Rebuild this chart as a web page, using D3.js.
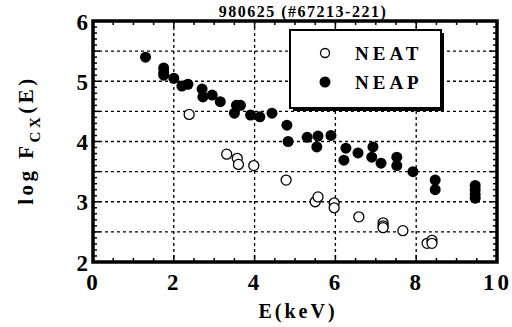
<!DOCTYPE html>
<html>
<head>
<meta charset="utf-8">
<script src="https://cdn.jsdelivr.net/npm/d3@7"></script>
<style>
  body { margin: 0; background: #fff; }
  text { font-family: "Liberation Serif", "Times New Roman", serif; font-weight: bold; fill: #000; }
</style>
</head>
<body>
<div id="chart"></div>
<script>
// data: energy (keV) and log F_CX(E)
var neatE = [2.38, 3.31, 3.57, 3.6, 3.98, 4.78, 5.5, 5.57, 5.97, 5.97, 6.58, 7.18, 7.18, 7.18, 7.67, 8.27, 8.39, 8.39];
var neatF = [4.45, 3.79, 3.72, 3.62, 3.6, 3.36, 3.0, 3.08, 2.98, 2.9, 2.75, 2.65, 2.6, 2.57, 2.52, 2.31, 2.36, 2.31];

var neapE = [1.3, 1.75, 1.75, 1.75, 2.0, 2.2, 2.35, 2.7, 2.72, 2.95, 3.15, 3.5, 3.55, 3.65, 3.9, 4.13, 4.43,
  4.8, 4.83, 5.3, 5.57, 5.54, 5.89, 6.26, 6.21, 6.56, 6.93, 6.9, 7.13, 7.52, 7.52, 7.92, 8.47, 8.47,
  9.46, 9.46, 9.46, 9.46];
var neapF = [5.4, 5.22, 5.15, 5.1, 5.05, 4.92, 4.95, 4.87, 4.74, 4.77, 4.66, 4.47, 4.6, 4.6, 4.44, 4.41, 4.47,
  4.27, 4.0, 4.07, 4.09, 3.91, 4.1, 3.89, 3.69, 3.81, 3.91, 3.74, 3.64, 3.74, 3.6, 3.5, 3.36, 3.2,
  3.27, 3.2, 3.12, 3.06];

var xTicks = [0, 2, 4, 6, 8, 10];
var yTicks = [2, 3, 4, 5, 6];
var xGrid = [2, 4, 6, 8];
var yGrid = [2.5, 3, 3.5, 4, 4.5, 5, 5.5];

var svgWidth = 512;
var svgHeight = 327;
var margin = { top: 21, right: 15, bottom: 65, left: 93 };
var width = 497 - margin.left;
var height = 262 - margin.top;

var svg = d3.select("#chart").append("svg")
  .attr("width", svgWidth)
  .attr("height", svgHeight);

var chartGroup = svg.append("g")
  .attr("transform", `translate(${margin.left}, ${margin.top})`);

var x = d3.scaleLinear().domain([0, 10]).range([0, width]);
var y = d3.scaleLinear().domain([2, 6]).range([height, 0]);

// grid
chartGroup.selectAll(".xg").data(xGrid).enter().append("line")
  .attr("x1", d => x(d)).attr("x2", d => x(d))
  .attr("y1", 0).attr("y2", height)
  .attr("stroke", "#000").attr("stroke-width", 1.3).attr("stroke-dasharray", "3,3");
chartGroup.selectAll(".yg").data(yGrid).enter().append("line")
  .attr("x1", 0).attr("x2", width)
  .attr("y1", d => y(d)).attr("y2", d => y(d))
  .attr("stroke", "#000").attr("stroke-width", 1.3).attr("stroke-dasharray", "3,3");

// inner tick marks on all four sides
var xMinor = d3.range(0, 10.01, 0.5);
var yMinor = d3.range(2, 6.001, 0.1);

function tickLen(v, step) { return Math.abs(v / step - Math.round(v / step)) < 1e-6 ? 7 : 4; }

chartGroup.selectAll(".xb").data(xMinor).enter().append("line")
  .attr("x1", d => x(d)).attr("x2", d => x(d))
  .attr("y1", height).attr("y2", d => height - tickLen(d, 2))
  .attr("stroke", "#000").attr("stroke-width", 1.5);
chartGroup.selectAll(".xt").data(xMinor).enter().append("line")
  .attr("x1", d => x(d)).attr("x2", d => x(d))
  .attr("y1", 0).attr("y2", d => tickLen(d, 2))
  .attr("stroke", "#000").attr("stroke-width", 1.5);
chartGroup.selectAll(".yl").data(yMinor).enter().append("line")
  .attr("x1", 0).attr("x2", d => tickLen(d, 0.5))
  .attr("y1", d => y(d)).attr("y2", d => y(d))
  .attr("stroke", "#000").attr("stroke-width", 1.5);
chartGroup.selectAll(".yr").data(yMinor).enter().append("line")
  .attr("x1", width).attr("x2", d => width - tickLen(d, 0.5))
  .attr("y1", d => y(d)).attr("y2", d => y(d))
  .attr("stroke", "#000").attr("stroke-width", 1.5);

// frame
chartGroup.append("rect")
  .attr("width", width).attr("height", height)
  .attr("fill", "none").attr("stroke", "#000").attr("stroke-width", 3.5);

// axes labels via d3 axes (no lines, labels only)
var bottomAxis = d3.axisBottom(x).tickValues(xTicks).tickFormat(d3.format("d")).tickSize(0).tickPadding(12);
var leftAxis = d3.axisLeft(y).tickValues(yTicks).tickFormat(d3.format("d")).tickSize(0).tickPadding(5);

var xAxis = chartGroup.append("g").attr("transform", `translate(0, ${height})`).call(bottomAxis);
var yAxis = chartGroup.append("g").call(leftAxis);
[xAxis, yAxis].forEach(function(a) {
  a.select(".domain").remove();
  a.attr("font-family", null);
  a.selectAll("text")
    .style("font-family", "'Liberation Serif', serif")
    .style("font-weight", "bold")
    .attr("font-size", 23)
    .attr("letter-spacing", 3)
    .attr("fill", "#000");
});
yAxis.selectAll("text").attr("dy", "0.35em").attr("letter-spacing", 0);

// points
chartGroup.selectAll(".neat").data(neatE).enter().append("circle")
  .attr("cx", d => x(d))
  .attr("cy", (d, i) => y(neatF[i]))
  .attr("r", 5)
  .attr("fill", "#fff").attr("stroke", "#000").attr("stroke-width", 1.3);
chartGroup.selectAll(".neap").data(neapE).enter().append("circle")
  .attr("cx", d => x(d))
  .attr("cy", (d, i) => y(neapF[i]))
  .attr("r", 5.5)
  .attr("fill", "#000");

// legend
var legend = svg.append("g").attr("transform", "translate(290, 30)");
legend.append("rect").attr("x", 3).attr("y", 3).attr("width", 151).attr("height", 78).attr("fill", "#000");
legend.append("rect").attr("width", 151).attr("height", 78)
  .attr("fill", "#fff").attr("stroke", "#000").attr("stroke-width", 2);
legend.append("circle").attr("cx", 35).attr("cy", 23).attr("r", 4.5)
  .attr("fill", "#fff").attr("stroke", "#000").attr("stroke-width", 1.3);
legend.append("circle").attr("cx", 35).attr("cy", 52).attr("r", 5.5).attr("fill", "#000");
legend.append("text").attr("x", 65).attr("y", 30).attr("font-size", 19).attr("letter-spacing", 4).text("NEAT");
legend.append("text").attr("x", 65).attr("y", 59).attr("font-size", 19).attr("letter-spacing", 4).text("NEAP");

// title
svg.append("text")
  .attr("x", 303).attr("y", 17)
  .attr("text-anchor", "middle")
  .attr("font-size", 16)
  .attr("letter-spacing", 1.5)
  .text("980625 (#67213-221)");

// x label
svg.append("text")
  .attr("x", 298).attr("y", 318)
  .attr("text-anchor", "middle")
  .attr("font-size", 20)
  .attr("letter-spacing", 3)
  .text("E(keV)");

// y label
var yl = svg.append("text")
  .attr("transform", "translate(33, 140) rotate(-90)")
  .attr("text-anchor", "middle")
  .attr("font-size", 21)
  .attr("letter-spacing", 3.5);
yl.append("tspan").text("log F");
yl.append("tspan").attr("font-size", 15).attr("dy", 7).text("CX");
yl.append("tspan").attr("dy", -7).text("(E)");
</script>
</body>
</html>
